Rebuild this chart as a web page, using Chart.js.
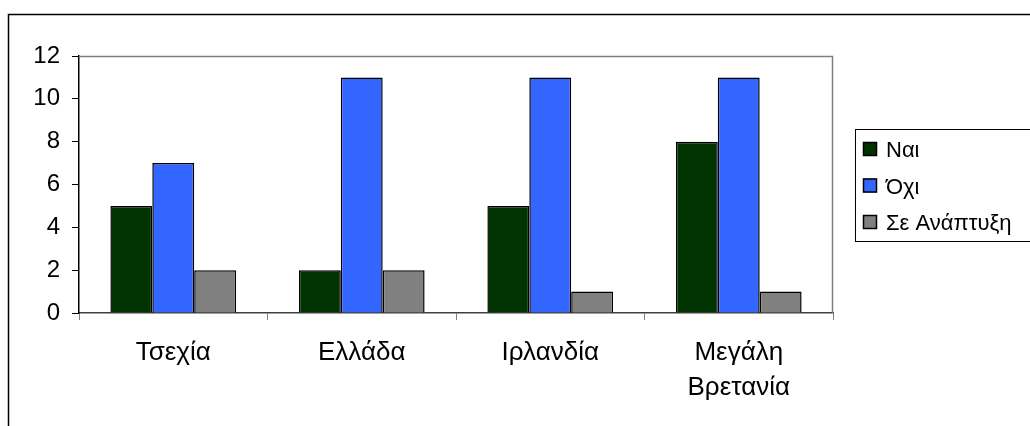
<!DOCTYPE html>
<html>
<head>
<meta charset="utf-8">
<script src="https://cdn.jsdelivr.net/npm/chart.js@4/dist/chart.umd.min.js"></script>
<style>
html,body{margin:0;padding:0;background:#fff;overflow:hidden;}
#wrap{width:1030px;height:426px;position:relative;}
</style>
</head>
<body>
<div id="wrap"><canvas id="c" width="1030" height="426"></canvas></div>
<script>
const categories = [["Τσεχία"], ["Ελλάδα"], ["Ιρλανδία"], ["Μεγάλη", "Βρετανία"]];
const seriesNames = ["Ναι", "Όχι", "Σε Ανάπτυξη"];
const yesValues = [5, 2, 5, 8];
const noValues = [7, 11, 11, 11];
const devValues = [2, 2, 1, 1];
const yTicks = [0, 2, 4, 6, 8, 10, 12];
const colors = ["#003300", "#3366FF", "#808080"];

const FONT = "'Liberation Sans', Arial, sans-serif";

const framePlugin = {
  id: 'frame',
  beforeDraw(chart) {
    const ctx = chart.ctx;
    ctx.save();
    ctx.fillStyle = '#fff';
    ctx.fillRect(0, 0, chart.width, chart.height);
    ctx.strokeStyle = '#000';
    ctx.lineWidth = 1.5;
    ctx.strokeRect(8.5, 14.5, 1100, 600);
    ctx.restore();
  },
  afterDatasetsDraw(chart) {
    const {ctx, chartArea: a} = chart;
    ctx.save();
    ctx.strokeStyle = '#808080';
    ctx.lineWidth = 1.5;
    ctx.beginPath();
    ctx.moveTo(a.left, a.top + 0.5);
    ctx.lineTo(a.right - 0.5, a.top + 0.5);
    ctx.lineTo(a.right - 0.5, a.bottom);
    ctx.stroke();
    // legend
    const lx = 855, ly = 129, lh = 112;
    ctx.strokeStyle = '#000';
    ctx.lineWidth = 1;
    ctx.strokeRect(lx + 0.5, ly + 0.5, 300, lh);
    ctx.font = '22px ' + FONT;
    ctx.textBaseline = 'alphabetic';
    chart.data.datasets.forEach((ds, i) => {
      const cy = 149 + i * 36.5;
      ctx.fillStyle = ds.backgroundColor;
      ctx.fillRect(863, cy - 7, 14, 14);
      ctx.strokeStyle = '#000';
      ctx.lineWidth = 1.5;
      ctx.strokeRect(863.5, cy - 6.5, 13, 13);
      ctx.fillStyle = '#000';
      ctx.fillText(ds.label, 886, cy + 8);
    });
    ctx.restore();
  }
};

new Chart(document.getElementById('c'), {
  type: 'bar',
  data: {
    labels: categories,
    datasets: [
      {label: seriesNames[0], data: yesValues, backgroundColor: colors[0]},
      {label: seriesNames[1], data: noValues, backgroundColor: colors[1]},
      {label: seriesNames[2], data: devValues, backgroundColor: colors[2]}
    ].map(d => Object.assign(d, {borderColor: '#000', borderWidth: 1.5, categoryPercentage: 0.667, barPercentage: 1}))
  },
  options: {
    responsive: false,
    animation: false,
    devicePixelRatio: 1,
    layout: {padding: {left: 8, top: 56, right: 197, bottom: 0}},
    plugins: {legend: {display: false}, tooltip: {enabled: false}},
    scales: {
      x: {
        grid: {drawOnChartArea: false, drawTicks: true, tickLength: 7, tickColor: '#808080', offset: true},
        border: {color: '#404040', width: 1.5},
        ticks: {color: '#000', font: {family: FONT, size: 26, lineHeight: 1.35}, padding: 15, maxRotation: 0, autoSkip: false},
        afterFit(s) { s.height = 113; }
      },
      y: {
        min: 0, max: 12,
        afterBuildTicks(s) { s.ticks = yTicks.map(v => ({value: v})); },
        grid: {drawOnChartArea: false, drawTicks: true, tickLength: 7, tickColor: '#000'},
        border: {color: '#000', width: 1.5},
        ticks: {color: '#000', font: {family: FONT, size: 24}, padding: 12},
        afterFit(s) { s.width = 71; }
      }
    }
  },
  plugins: [framePlugin]
});
</script>
</body>
</html>
